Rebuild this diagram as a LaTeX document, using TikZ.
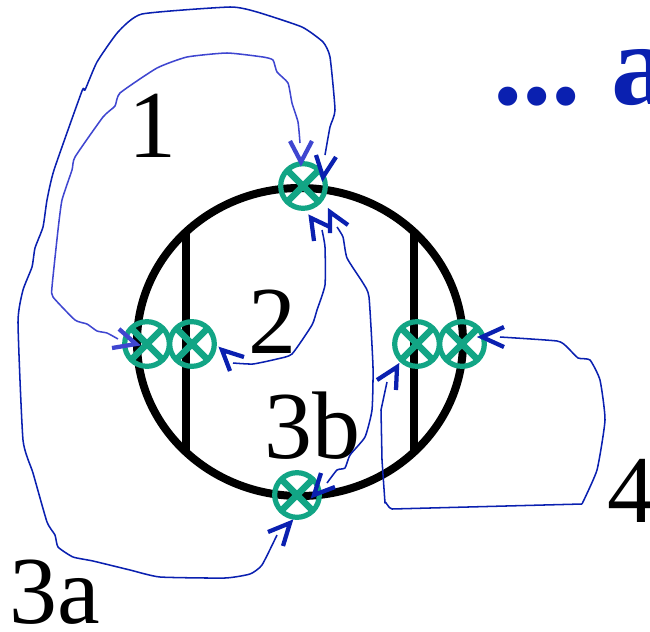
\documentclass[tikz,border=0pt]{standalone}
\usepackage{fontspec}
\setmainfont{Liberation Serif}
\definecolor{xgreen}{HTML}{12A585}
\definecolor{dblue}{HTML}{0A20B0}
\definecolor{lblue}{HTML}{3F46D0}
\tikzset{
  xc/.style={circle,draw=xgreen,line width=3.9pt,minimum size=33.5pt,inner sep=0pt,
    path picture={\draw[xgreen,line width=4.8pt]
      (path picture bounding box.north west)--(path picture bounding box.south east)
      (path picture bounding box.north east)--(path picture bounding box.south west);}},
  ring/.style={draw=black,line width=6pt},
  wire/.style={line width=1.15pt,dblue,line join=round},
  lwire/.style={line width=1.15pt,lblue,line join=round},
  vee/.style={line width=3.2pt,dblue,miter limit=10},
  lvee/.style={line width=3.2pt,lblue,miter limit=10},
  lab/.style={anchor=base west,inner sep=0pt,font=\fontsize{72}{72}\selectfont},
}
\begin{document}
\begin{tikzpicture}[x=0.75pt,y=-0.75pt]
\useasboundingbox (0,0) rectangle (650,632);
\clip (0,0) rectangle (650,632);
% ring and bars
\draw[ring] (300,342) ellipse [x radius=163,y radius=154];
\coordinate (bar1t) at (186,232);
\coordinate (bar1b) at (186,452);
\coordinate (bar2t) at (414,232);
\coordinate (bar2b) at (414,452);
\draw[ring] (bar1t) -- (bar1b);
\draw[ring] (bar2t) -- (bar2b);
% crossed circles
\node[xc] (top) at (303,186) {};
\node[xc] (l1) at (147,344) {};
\node[xc] (l2) at (192,344) {};
\node[xc] (r1) at (417,344) {};
\node[xc] (r2) at (462,344) {};
\node[xc] (bot) at (297,495) {};
% labels
\node[lab] (n1) at (128.5,157) {1};
\node[lab] (n2) at (248,353) {2};
\node[lab] (n3b) at (264,458) {3b};
\node[lab] (n4) at (607,522) {4};
\node[lab] (n3a) at (9,623) {3a};
\node[anchor=base west,inner sep=0pt,dblue,font=\fontsize{88}{88}\selectfont\bfseries] (dots) at (493,104) {...\hspace{22.5pt}a};
% arrow tips
\coordinate (t1) at (136,344);
\coordinate (t1top) at (301,162);
\coordinate (t3top) at (323,177);
\coordinate (t3a) at (290,523);
\coordinate (t2) at (222,350);
\coordinate (z1) at (311,218);
\coordinate (z2) at (330,212);
\coordinate (t3b) at (314,495);
\coordinate (t4a) at (397,367);
\coordinate (t4b) at (482,337);
% wire 1
\draw[lwire] plot[smooth,tension=0.3] coordinates {(118,339) (107,333) (97,331) (87,324) (75,320) (53,297) (52,287) (58,230) (62,200) (72,170) (75,157) (103,117) (115,106) (120,93) (157,68) (187,57) (227,53) (263,57) (273,60) (277,72) (288,83) (292,103) (298,122) (300,143)};
\draw[lvee] (119,329) -- (t1) -- (112,348);
\draw[lvee] (290,141) -- (t1top) -- (312,141);
% wire 3a
\draw[wire] plot[smooth,tension=0.3] coordinates {(277,535) (262,565) (250,574) (225,578) (160,577) (130,570) (93,561) (73,557) (58,547) (55,535) (47,522) (33,473) (23,440) (18,322) (23,290) (32,267) (35,248) (43,227) (47,200) (54,170) (82,91) (85,90) (97,62) (118,32) (142,14) (230,7) (257,12) (302,27) (323,42) (330,57) (335,110) (330,127) (325,155)};
\draw[vee] (316,155) -- (t3top) -- (336,157);
\draw[vee] (268,532) -- (t3a) -- (283,546);
% wire 2
\draw[wire] plot[smooth,tension=0.3] coordinates {(233,363) (253,364) (277,359) (292,354) (312,325) (317,310) (325,285) (325,247) (322,230)};
\draw[vee] (244,357) -- (t2) -- (230,371);
\draw[vee] (314,241) -- (z1) -- (330,227);
% wire 3b
\draw[wire] plot[smooth,tension=0.3] coordinates {(337,227) (343,237) (347,258) (363,283) (369,297) (373,367) (372,410) (365,437) (350,455) (345,468) (337,470) (327,483)};
\draw[vee] (330,233) -- (z2) -- (348,225);
\draw[vee] (321,473) -- (t3b) -- (335,487);
% wire 4
\draw[wire] plot[smooth,tension=0.3] coordinates {(500,337) (557,341) (567,347) (578,358) (590,360) (600,380) (605,420) (597,470) (582,504)};
\draw[wire] (582,504) -- (392,509) to[out=180,in=85] (385,503) -- (382,460) -- (381,410) -- (387,382);
\draw[vee] (504,327) -- (t4b) -- (504,347);
\draw[vee] (377,380) -- (t4a) -- (396,390);
\end{tikzpicture}
\end{document}
